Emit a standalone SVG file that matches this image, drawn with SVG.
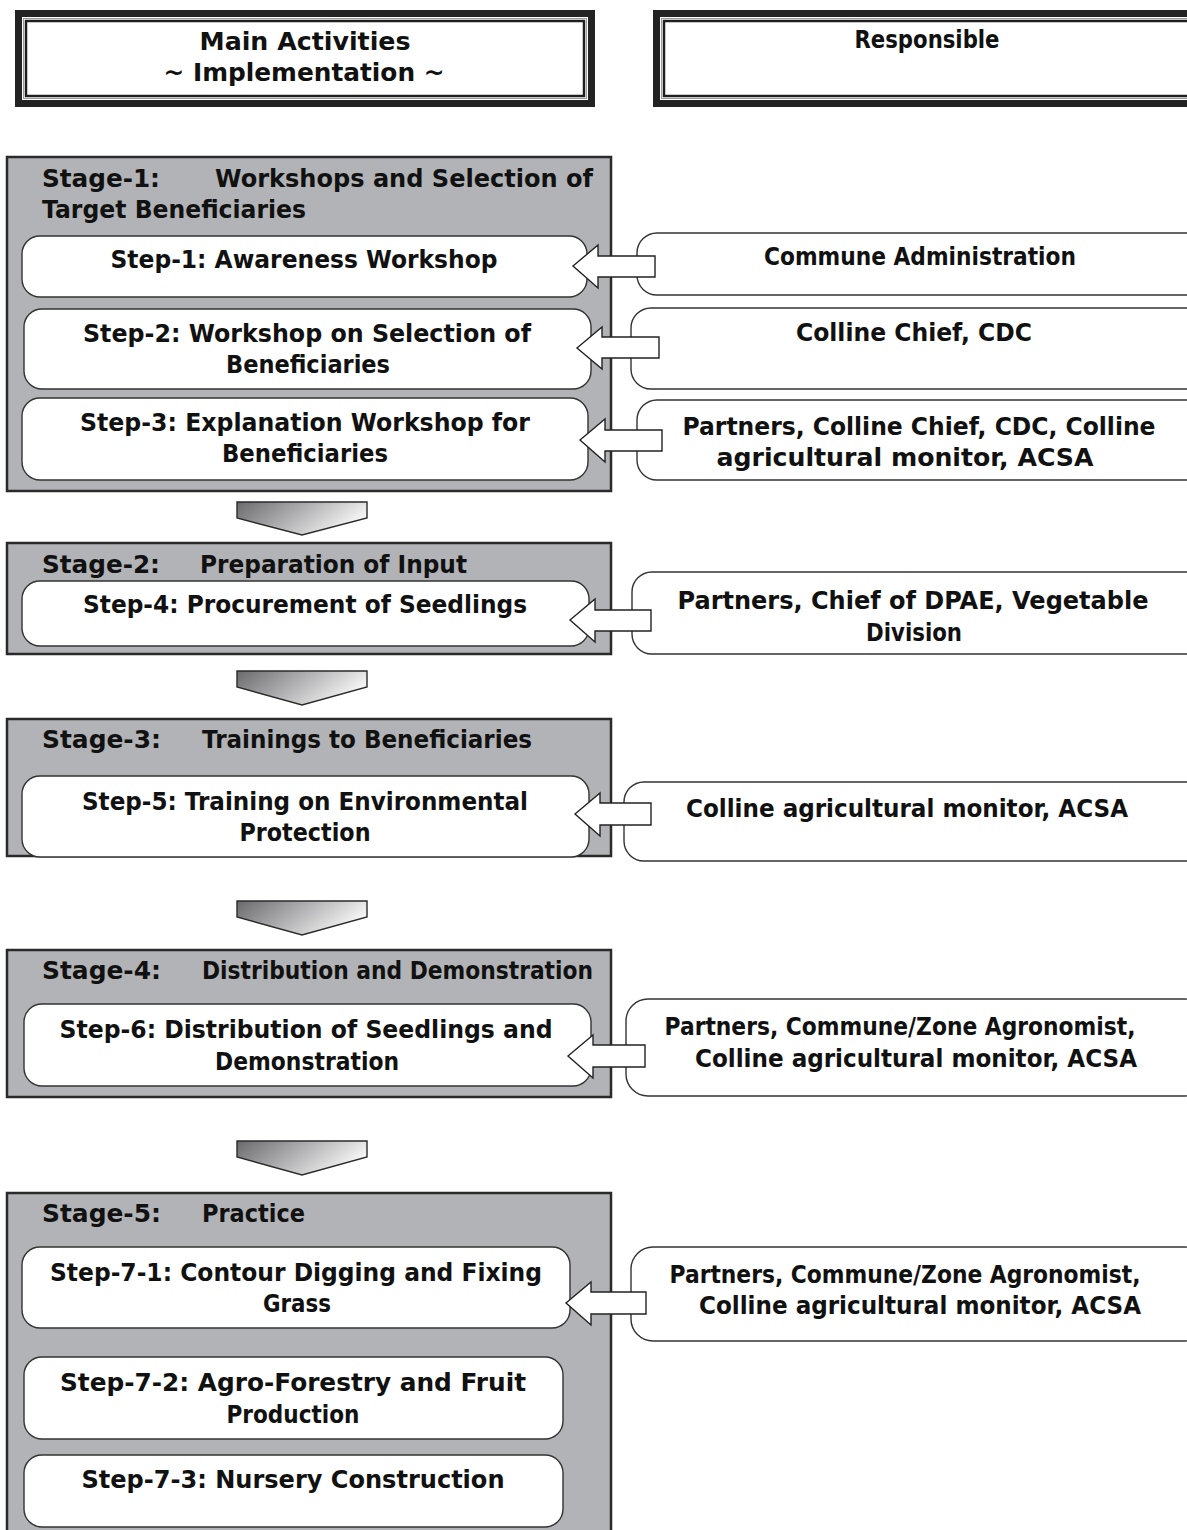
<svg xmlns="http://www.w3.org/2000/svg" width="1187" height="1530" viewBox="0 0 1187 1530">
  <defs>
    <linearGradient id="chevronFill" x1="0" y1="0" x2="1" y2="0.35">
      <stop offset="0" stop-color="#6a6a6c"/>
      <stop offset="0.55" stop-color="#b5b5b7"/>
      <stop offset="1" stop-color="#f4f4f4"/>
    </linearGradient>
    <clipPath id="clipResp3">
      <rect x="600" y="395" width="600" height="76"/>
    </clipPath>
    <style>
      text { font-family: "DejaVu Sans", "Liberation Sans", sans-serif; font-weight: bold; font-size: 24px; fill: #111; }
      .c { text-anchor: middle; }
      .stage { fill: #b2b3b6; stroke: #2a2a2a; stroke-width: 2.5; }
      .step { fill: #ffffff; stroke: #333; stroke-width: 1.4; }
      .resp { fill: #ffffff; stroke: #333; stroke-width: 1.4; }
      .barrow { fill: #ffffff; stroke: #222; stroke-width: 1.4; stroke-linejoin: miter; }
      .chev { fill: url(#chevronFill); stroke: #2a2a2a; stroke-width: 1.4; }
      .hdrOuter { fill: #232323; }
      .hdrInner { fill: #ffffff; }
      .hdrLine { fill: none; stroke: #1e1e1e; stroke-width: 2.5; }
      .hdrGrey { fill: none; stroke: #9a9a9a; stroke-width: 1; }
    </style>
  </defs>
  <rect width="1187" height="1530" fill="#ffffff"/>

  <!-- Column headers -->
  <g id="header-activities">
    <rect class="hdrOuter" x="15" y="10" width="580" height="97"/>
    <rect class="hdrInner" x="22" y="17" width="566" height="83"/>
    <rect class="hdrGrey" x="23.5" y="18.5" width="563" height="80"/>
    <rect class="hdrLine" x="26" y="21" width="558" height="75"/>
    <text class="c" x="305" y="50" textLength="211" lengthAdjust="spacingAndGlyphs">Main Activities</text>
    <text class="c" x="304" y="81" textLength="281" lengthAdjust="spacingAndGlyphs">~ Implementation ~</text>
  </g>
  <g id="header-responsible">
    <rect class="hdrOuter" x="653" y="10" width="560" height="97"/>
    <rect class="hdrInner" x="660" y="17" width="546" height="83"/>
    <rect class="hdrGrey" x="661.5" y="18.5" width="543" height="80"/>
    <rect class="hdrLine" x="664" y="21" width="538" height="75"/>
    <text class="c" x="927" y="48" textLength="145" lengthAdjust="spacingAndGlyphs">Responsible</text>
  </g>

  <!-- Stage 1 -->
  <g id="stage-1">
    <rect class="stage" x="7" y="157" width="604" height="334"/>
    <text x="42" y="187" textLength="118" lengthAdjust="spacingAndGlyphs">Stage-1:</text>
    <text x="215" y="187" textLength="378" lengthAdjust="spacingAndGlyphs">Workshops and Selection of</text>
    <text x="42" y="218" textLength="264" lengthAdjust="spacingAndGlyphs">Target Beneficiaries</text>
  </g>
  <g id="step-1">
    <rect class="step" x="22" y="236" width="565" height="61" rx="18"/>
    <text class="c" x="304" y="268" textLength="387" lengthAdjust="spacingAndGlyphs">Step-1: Awareness Workshop</text>
  </g>
  <g id="step-2">
    <rect class="step" x="24" y="309" width="567" height="80" rx="18"/>
    <text class="c" x="307" y="342" textLength="448" lengthAdjust="spacingAndGlyphs">Step-2: Workshop on Selection of</text>
    <text class="c" x="308" y="373" textLength="164" lengthAdjust="spacingAndGlyphs">Beneficiaries</text>
  </g>
  <g id="step-3">
    <rect class="step" x="22" y="398" width="566" height="82" rx="18"/>
    <text class="c" x="305" y="431" textLength="450" lengthAdjust="spacingAndGlyphs">Step-3: Explanation Workshop for</text>
    <text class="c" x="305" y="462" textLength="166" lengthAdjust="spacingAndGlyphs">Beneficiaries</text>
  </g>

  <!-- Stage 2 -->
  <g id="stage-2">
    <rect class="stage" x="7" y="543" width="604" height="111"/>
    <text x="42" y="573" textLength="118" lengthAdjust="spacingAndGlyphs">Stage-2:</text>
    <text x="200" y="573" textLength="267" lengthAdjust="spacingAndGlyphs">Preparation of Input</text>
  </g>
  <g id="step-4">
    <rect class="step" x="22" y="581" width="567" height="65" rx="18"/>
    <text class="c" x="305" y="613" textLength="444" lengthAdjust="spacingAndGlyphs">Step-4: Procurement of Seedlings</text>
  </g>

  <!-- Stage 3 -->
  <g id="stage-3">
    <rect class="stage" x="7" y="719" width="604" height="137"/>
    <text x="42" y="748" textLength="119" lengthAdjust="spacingAndGlyphs">Stage-3:</text>
    <text x="202" y="748" textLength="330" lengthAdjust="spacingAndGlyphs">Trainings to Beneficiaries</text>
  </g>
  <g id="step-5">
    <rect class="step" x="22" y="776" width="567" height="81" rx="18"/>
    <text class="c" x="305" y="810" textLength="446" lengthAdjust="spacingAndGlyphs">Step-5: Training on Environmental</text>
    <text class="c" x="305" y="841" textLength="131" lengthAdjust="spacingAndGlyphs">Protection</text>
  </g>

  <!-- Stage 4 -->
  <g id="stage-4">
    <rect class="stage" x="7" y="950" width="604" height="147"/>
    <text x="42" y="979" textLength="119" lengthAdjust="spacingAndGlyphs">Stage-4:</text>
    <text x="202" y="979" textLength="391" lengthAdjust="spacingAndGlyphs">Distribution and Demonstration</text>
  </g>
  <g id="step-6">
    <rect class="step" x="24" y="1004" width="567" height="82" rx="18"/>
    <text class="c" x="306" y="1038" textLength="493" lengthAdjust="spacingAndGlyphs">Step-6: Distribution of Seedlings and</text>
    <text class="c" x="307" y="1070" textLength="184" lengthAdjust="spacingAndGlyphs">Demonstration</text>
  </g>

  <!-- Stage 5 -->
  <g id="stage-5">
    <rect class="stage" x="7" y="1193" width="604" height="350"/>
    <text x="42" y="1222" textLength="119" lengthAdjust="spacingAndGlyphs">Stage-5:</text>
    <text x="202" y="1222" textLength="103" lengthAdjust="spacingAndGlyphs">Practice</text>
  </g>
  <g id="step-7-1">
    <rect class="step" x="22" y="1247" width="548" height="81" rx="18"/>
    <text class="c" x="296" y="1281" textLength="492" lengthAdjust="spacingAndGlyphs">Step-7-1: Contour Digging and Fixing</text>
    <text class="c" x="297" y="1312" textLength="68" lengthAdjust="spacingAndGlyphs">Grass</text>
  </g>
  <g id="step-7-2">
    <rect class="step" x="24" y="1357" width="539" height="82" rx="18"/>
    <text class="c" x="293" y="1391" textLength="466" lengthAdjust="spacingAndGlyphs">Step-7-2: Agro-Forestry and Fruit</text>
    <text class="c" x="293" y="1423" textLength="133" lengthAdjust="spacingAndGlyphs">Production</text>
  </g>
  <g id="step-7-3">
    <rect class="step" x="24" y="1455" width="539" height="72" rx="18"/>
    <text class="c" x="293" y="1488" textLength="423" lengthAdjust="spacingAndGlyphs">Step-7-3: Nursery Construction</text>
  </g>

  <!-- Responsible parties -->
  <g id="resp-1">
    <rect class="resp" x="637" y="233" width="570" height="62" rx="20"/>
    <text class="c" x="920" y="265" textLength="312" lengthAdjust="spacingAndGlyphs">Commune Administration</text>
  </g>
  <g id="resp-2">
    <rect class="resp" x="631" y="308" width="576" height="81" rx="20"/>
    <text class="c" x="914" y="341" textLength="236" lengthAdjust="spacingAndGlyphs">Colline Chief, CDC</text>
  </g>
  <g id="resp-3">
    <rect class="resp" x="637" y="400" width="570" height="80" rx="20"/>
    <g clip-path="url(#clipResp3)">
      <text class="c" x="919" y="435" textLength="473" lengthAdjust="spacingAndGlyphs">Partners, Colline Chief, CDC, Colline</text>
      <text class="c" x="905" y="466" textLength="377" lengthAdjust="spacingAndGlyphs">agricultural monitor, ACSA</text>
    </g>
  </g>
  <g id="resp-4">
    <rect class="resp" x="632" y="572" width="575" height="82" rx="20"/>
    <text class="c" x="913" y="609" textLength="471" lengthAdjust="spacingAndGlyphs">Partners, Chief of DPAE, Vegetable</text>
    <text class="c" x="914" y="641" textLength="96" lengthAdjust="spacingAndGlyphs">Division</text>
  </g>
  <g id="resp-5">
    <rect class="resp" x="624" y="782" width="583" height="79" rx="20"/>
    <text class="c" x="907" y="817" textLength="442" lengthAdjust="spacingAndGlyphs">Colline agricultural monitor, ACSA</text>
  </g>
  <g id="resp-6">
    <rect class="resp" x="626" y="999" width="581" height="97" rx="22"/>
    <text class="c" x="900" y="1035" textLength="471" lengthAdjust="spacingAndGlyphs">Partners, Commune/Zone Agronomist,</text>
    <text class="c" x="916" y="1067" textLength="442" lengthAdjust="spacingAndGlyphs">Colline agricultural monitor, ACSA</text>
  </g>
  <g id="resp-7">
    <rect class="resp" x="631" y="1247" width="576" height="94" rx="22"/>
    <text class="c" x="905" y="1283" textLength="471" lengthAdjust="spacingAndGlyphs">Partners, Commune/Zone Agronomist,</text>
    <text class="c" x="920" y="1314" textLength="442" lengthAdjust="spacingAndGlyphs">Colline agricultural monitor, ACSA</text>
  </g>

  <!-- Connectors: block arrows from responsible parties and stage-to-stage chevrons -->
  <g id="connectors">
    <polygon class="barrow" points="573,266 598,245 598,256 655,256 655,277 598,277 598,288"/>
    <polygon class="barrow" points="577,348 602,327 602,337 659,337 659,358 602,358 602,369"/>
    <polygon class="barrow" points="580,440 605,419 605,430 662,430 662,451 605,451 605,462"/>
    <polygon class="barrow" points="570,620 595,599 595,610 651,610 651,631 595,631 595,642"/>
    <polygon class="barrow" points="575,814 600,793 600,803 651,803 651,825 600,825 600,836"/>
    <polygon class="barrow" points="568,1056 593,1035 593,1045 645,1045 645,1067 593,1067 593,1078"/>
    <polygon class="barrow" points="566,1303 591,1282 591,1292 646,1292 646,1314 591,1314 591,1325"/>

    <polygon class="chev" points="237,502 367,502 367,518 302,535 237,518"/>
    <polygon class="chev" points="237,671 367,671 367,687 302,705 237,687"/>
    <polygon class="chev" points="237,901 367,901 367,917 302,935 237,917"/>
    <polygon class="chev" points="237,1141 367,1141 367,1157 302,1175 237,1157"/>
  </g>
</svg>
